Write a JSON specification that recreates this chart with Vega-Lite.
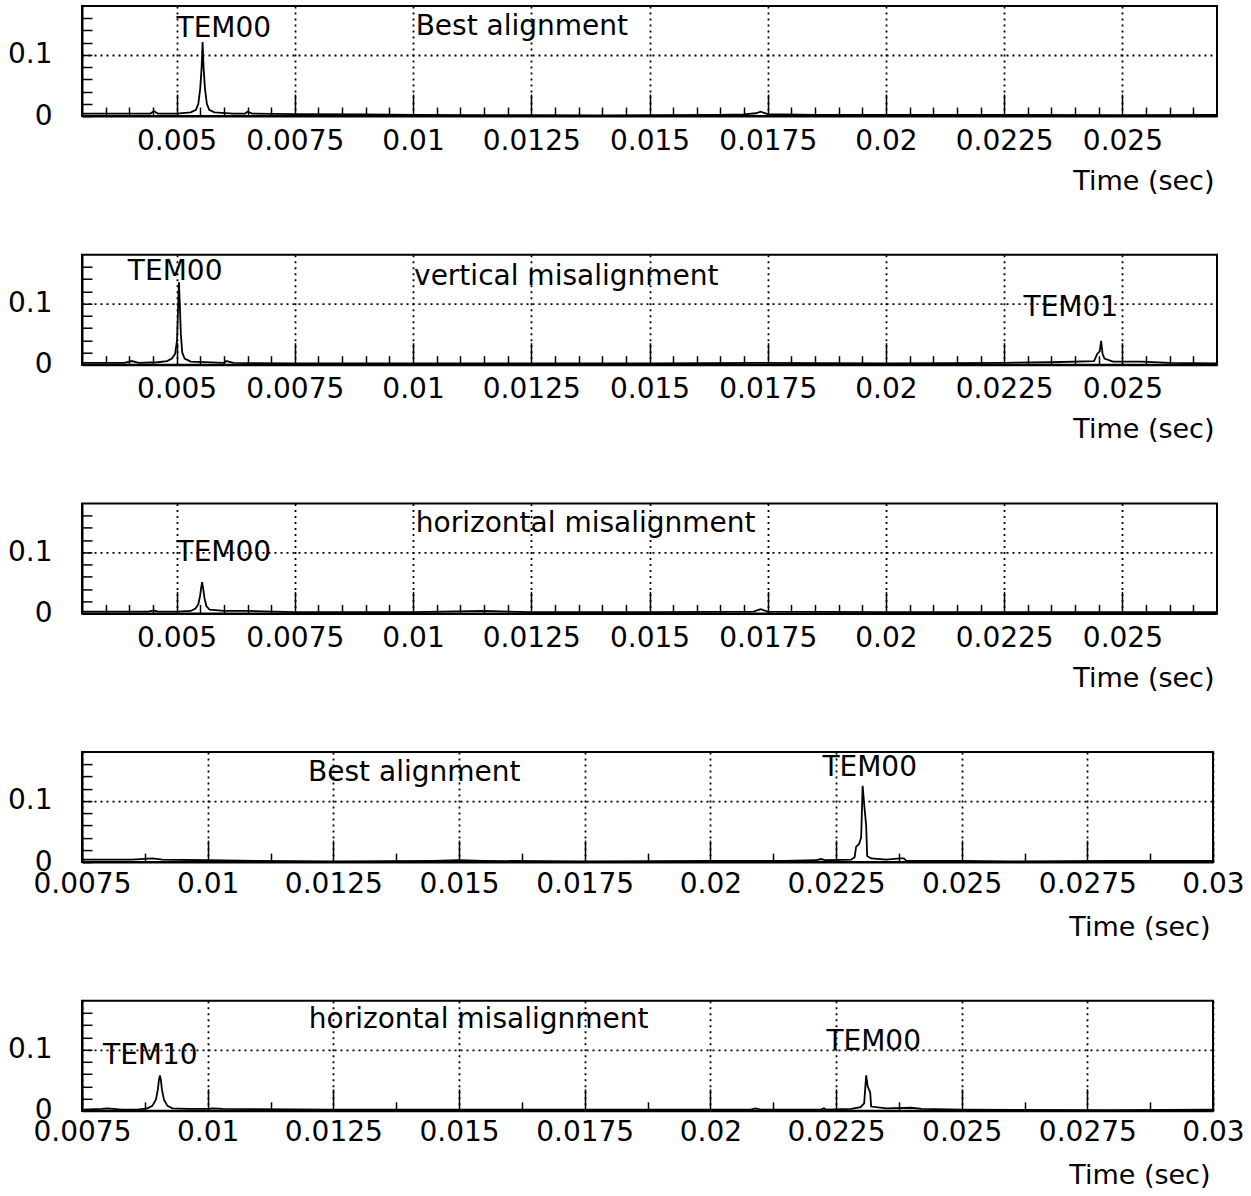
{
  "$schema": "https://vega.github.io/schema/vega-lite/v6.json",
  "background": "white",
  "padding": {"left": 6, "top": 3, "right": 0, "bottom": 0},
  "autosize": {"type": "pad"},
  "bounds": "flush",
  "spacing": 138.7,
  "config": {
    "font": "DejaVu Sans",
    "view": {"stroke": "black", "strokeWidth": 2},
    "axis": {"labelFont": "DejaVu Sans", "labelFontSize": 28, "labelColor": "black", "titleFont": "DejaVu Sans", "titleFontSize": 27, "titleFontWeight": "normal", "titleColor": "black", "tickColor": "black", "tickWidth": 1.5, "gridColor": "black", "gridDash": [2, 4], "gridWidth": 1.8, "domainColor": "black", "domainWidth": 2, "labelFlush": false, "labelOverlap": false, "labelBound": false},
    "line": {"color": "black", "strokeWidth": 1.8},
    "text": {"font": "DejaVu Sans", "fontSize": 28, "color": "black", "align": "center", "baseline": "alphabetic"}
  },
  "datasets": {
    "s1": [{"t":0.003,"v":0.004},{"t":0.004,"v":0.004},{"t":0.00445,"v":0.004},{"t":0.00452,"v":0.008},{"t":0.0046,"v":0.004},{"t":0.005,"v":0.004},{"t":0.0053,"v":0.006},{"t":0.00541,"v":0.010},{"t":0.00546,"v":0.020},{"t":0.0055,"v":0.045},{"t":0.00553,"v":0.080},{"t":0.00555,"v":0.121},{"t":0.00557,"v":0.080},{"t":0.0056,"v":0.045},{"t":0.00564,"v":0.020},{"t":0.00569,"v":0.010},{"t":0.0058,"v":0.006},{"t":0.0062,"v":0.004},{"t":0.00645,"v":0.004},{"t":0.0065,"v":0.007},{"t":0.0066,"v":0.004},{"t":0.0075,"v":0.003},{"t":0.009,"v":0.0025},{"t":0.01,"v":0.002},{"t":0.0115,"v":0.0015},{"t":0.0125,"v":0.0015},{"t":0.014,"v":0.001},{"t":0.015,"v":0.0015},{"t":0.0165,"v":0.002},{"t":0.017,"v":0.0025},{"t":0.01725,"v":0.0045},{"t":0.01735,"v":0.007},{"t":0.0175,"v":0.003},{"t":0.0185,"v":0.002},{"t":0.02,"v":0.002},{"t":0.0225,"v":0.002},{"t":0.025,"v":0.0015},{"t":0.027,"v":0.002}],
    "l1": [{"t":0.006,"v":0.130,"label":"TEM00"},{"t":0.0123,"v":0.1328,"label":"Best alignment"}],
    "s2": [{"t":0.003,"v":0.003},{"t":0.0039,"v":0.003},{"t":0.00405,"v":0.006},{"t":0.0042,"v":0.003},{"t":0.0046,"v":0.004},{"t":0.0048,"v":0.006},{"t":0.0049,"v":0.010},{"t":0.00497,"v":0.018},{"t":0.00501,"v":0.040},{"t":0.00503,"v":0.090},{"t":0.00505,"v":0.135},{"t":0.00507,"v":0.095},{"t":0.00509,"v":0.050},{"t":0.00512,"v":0.020},{"t":0.00517,"v":0.010},{"t":0.0053,"v":0.005},{"t":0.006,"v":0.003},{"t":0.00605,"v":0.006},{"t":0.0062,"v":0.003},{"t":0.0075,"v":0.002},{"t":0.01,"v":0.002},{"t":0.0125,"v":0.002},{"t":0.015,"v":0.002},{"t":0.0173,"v":0.003},{"t":0.02,"v":0.002},{"t":0.0225,"v":0.003},{"t":0.0235,"v":0.004},{"t":0.0244,"v":0.006},{"t":0.02447,"v":0.018},{"t":0.02452,"v":0.022},{"t":0.02455,"v":0.039},{"t":0.02458,"v":0.018},{"t":0.02462,"v":0.010},{"t":0.0248,"v":0.005},{"t":0.0254,"v":0.005},{"t":0.026,"v":0.003},{"t":0.027,"v":0.002}],
    "l2": [{"t":0.00497,"v":0.139,"label":"TEM00"},{"t":0.01324,"v":0.131,"label":"vertical misalignment"},{"t":0.02391,"v":0.080,"label":"TEM01"}],
    "s3": [{"t":0.003,"v":0.003},{"t":0.0044,"v":0.003},{"t":0.00452,"v":0.005},{"t":0.0046,"v":0.003},{"t":0.005,"v":0.003},{"t":0.0053,"v":0.004},{"t":0.0054,"v":0.008},{"t":0.00546,"v":0.015},{"t":0.0055,"v":0.030},{"t":0.00552,"v":0.042},{"t":0.00554,"v":0.051},{"t":0.00556,"v":0.042},{"t":0.00559,"v":0.025},{"t":0.00563,"v":0.012},{"t":0.0057,"v":0.006},{"t":0.006,"v":0.004},{"t":0.0065,"v":0.004},{"t":0.0075,"v":0.002},{"t":0.01,"v":0.002},{"t":0.0115,"v":0.004},{"t":0.0125,"v":0.002},{"t":0.015,"v":0.002},{"t":0.0172,"v":0.003},{"t":0.01735,"v":0.007},{"t":0.0175,"v":0.003},{"t":0.02,"v":0.002},{"t":0.025,"v":0.002},{"t":0.027,"v":0.002}],
    "l3": [{"t":0.006,"v":0.085,"label":"TEM00"},{"t":0.01365,"v":0.134,"label":"horizontal misalignment"}],
    "s4": [{"t":0.0075,"v":0.004},{"t":0.0085,"v":0.004},{"t":0.0089,"v":0.006},{"t":0.0091,"v":0.004},{"t":0.01,"v":0.003},{"t":0.011,"v":0.002},{"t":0.0125,"v":0.001},{"t":0.0145,"v":0.002},{"t":0.015,"v":0.003},{"t":0.0155,"v":0.002},{"t":0.0175,"v":0.001},{"t":0.02,"v":0.002},{"t":0.0215,"v":0.002},{"t":0.0221,"v":0.003},{"t":0.0222,"v":0.005},{"t":0.0223,"v":0.003},{"t":0.0228,"v":0.004},{"t":0.02287,"v":0.008},{"t":0.0229,"v":0.025},{"t":0.02296,"v":0.030},{"t":0.023,"v":0.040},{"t":0.02303,"v":0.125},{"t":0.02306,"v":0.095},{"t":0.0231,"v":0.060},{"t":0.02312,"v":0.010},{"t":0.0232,"v":0.006},{"t":0.0235,"v":0.004},{"t":0.02378,"v":0.006},{"t":0.02385,"v":0.006},{"t":0.0239,"v":0.002},{"t":0.025,"v":0.002},{"t":0.026,"v":0.001},{"t":0.028,"v":0.002},{"t":0.03,"v":0.002}],
    "l4": [{"t":0.01411,"v":0.133,"label":"Best alignment"},{"t":0.02317,"v":0.141,"label":"TEM00"}],
    "s5": [{"t":0.0075,"v":0.002},{"t":0.0079,"v":0.003},{"t":0.008,"v":0.004},{"t":0.0083,"v":0.002},{"t":0.0086,"v":0.002},{"t":0.0088,"v":0.004},{"t":0.0089,"v":0.008},{"t":0.00897,"v":0.018},{"t":0.00901,"v":0.035},{"t":0.00903,"v":0.050},{"t":0.00905,"v":0.058},{"t":0.00907,"v":0.050},{"t":0.00909,"v":0.035},{"t":0.00913,"v":0.018},{"t":0.0092,"v":0.008},{"t":0.0093,"v":0.004},{"t":0.0096,"v":0.003},{"t":0.01,"v":0.003},{"t":0.0101,"v":0.004},{"t":0.0103,"v":0.003},{"t":0.0125,"v":0.002},{"t":0.015,"v":0.002},{"t":0.0175,"v":0.002},{"t":0.02,"v":0.002},{"t":0.0208,"v":0.002},{"t":0.0209,"v":0.004},{"t":0.021,"v":0.002},{"t":0.0222,"v":0.002},{"t":0.02226,"v":0.004},{"t":0.0223,"v":0.002},{"t":0.0228,"v":0.003},{"t":0.02299,"v":0.006},{"t":0.02306,"v":0.012},{"t":0.0231,"v":0.058},{"t":0.02313,"v":0.040},{"t":0.02318,"v":0.030},{"t":0.0232,"v":0.007},{"t":0.0235,"v":0.004},{"t":0.0240,"v":0.005},{"t":0.0242,"v":0.003},{"t":0.025,"v":0.002},{"t":0.028,"v":0.001},{"t":0.03,"v":0.002}],
    "l5": [{"t":0.01539,"v":0.135,"label":"horizontal misalignment"},{"t":0.00886,"v":0.077,"label":"TEM10"},{"t":0.02325,"v":0.099,"label":"TEM00"}]
  },
  "vconcat": [
    {
      "width": 1135, "height": 110,
      "encoding": {
        "x": {"field": "t", "type": "quantitative", "scale": {"domain": [0.003, 0.027], "nice": false, "zero": false},
          "axis": {"values": [0.0035,0.004,0.0045,0.005,0.0055,0.006,0.0065,0.007,0.0075,0.008,0.0085,0.009,0.0095,0.01,0.0105,0.011,0.0115,0.012,0.0125,0.013,0.0135,0.014,0.0145,0.015,0.0155,0.016,0.0165,0.017,0.0175,0.018,0.0185,0.019,0.0195,0.02,0.0205,0.021,0.0215,0.022,0.0225,0.023,0.0235,0.024,0.0245,0.025,0.0255,0.026,0.0265],
            "labelExpr": "abs(datum.value/0.0025 - round(datum.value/0.0025)) < 1e-6 ? '' + datum.value : ''",
            "tickSize": {"condition": {"test": "abs(datum.value/0.0025 - round(datum.value/0.0025)) < 1e-6", "value": -22}, "value": -9},
            "gridOpacity": {"condition": {"test": "abs(datum.value/0.0025 - round(datum.value/0.0025)) < 1e-6", "value": 1}, "value": 0},
            "labelPadding": 33, "title": "Time (sec)", "titleX": 1132, "titleY": 73, "titleAlign": "right", "titleBaseline": "alphabetic"}},
        "y": {"field": "v", "type": "quantitative", "scale": {"domain": [0, 0.18], "nice": false},
          "axis": {"values": [0,0.02,0.04,0.06,0.08,0.1,0.12,0.14,0.16], "title": null, "tickSize": -10, "labelPadding": 40,
            "labelExpr": "datum.value == 0 || abs(datum.value - 0.1) < 1e-9 ? '' + datum.value : ''",
            "gridOpacity": {"condition": {"test": "abs(datum.value - 0.1) < 1e-9", "value": 1}, "value": 0}}}
      },
      "layer": [
        {"data": {"name": "s1"}, "mark": {"type": "line"}},
        {"data": {"name": "l1"}, "mark": {"type": "text"}, "encoding": {"text": {"field": "label"}}}
      ]
    },
    {
      "width": 1135, "height": 110,
      "encoding": {
        "x": {"field": "t", "type": "quantitative", "scale": {"domain": [0.003, 0.027], "nice": false, "zero": false},
          "axis": {"values": [0.0035,0.004,0.0045,0.005,0.0055,0.006,0.0065,0.007,0.0075,0.008,0.0085,0.009,0.0095,0.01,0.0105,0.011,0.0115,0.012,0.0125,0.013,0.0135,0.014,0.0145,0.015,0.0155,0.016,0.0165,0.017,0.0175,0.018,0.0185,0.019,0.0195,0.02,0.0205,0.021,0.0215,0.022,0.0225,0.023,0.0235,0.024,0.0245,0.025,0.0255,0.026,0.0265],
            "labelExpr": "abs(datum.value/0.0025 - round(datum.value/0.0025)) < 1e-6 ? '' + datum.value : ''",
            "tickSize": {"condition": {"test": "abs(datum.value/0.0025 - round(datum.value/0.0025)) < 1e-6", "value": -22}, "value": -9},
            "gridOpacity": {"condition": {"test": "abs(datum.value/0.0025 - round(datum.value/0.0025)) < 1e-6", "value": 1}, "value": 0},
            "labelPadding": 33, "title": "Time (sec)", "titleX": 1132, "titleY": 73, "titleAlign": "right", "titleBaseline": "alphabetic"}},
        "y": {"field": "v", "type": "quantitative", "scale": {"domain": [0, 0.18], "nice": false},
          "axis": {"values": [0,0.02,0.04,0.06,0.08,0.1,0.12,0.14,0.16], "title": null, "tickSize": -10, "labelPadding": 40,
            "labelExpr": "datum.value == 0 || abs(datum.value - 0.1) < 1e-9 ? '' + datum.value : ''",
            "gridOpacity": {"condition": {"test": "abs(datum.value - 0.1) < 1e-9", "value": 1}, "value": 0}}}
      },
      "layer": [
        {"data": {"name": "s2"}, "mark": {"type": "line"}},
        {"data": {"name": "l2"}, "mark": {"type": "text"}, "encoding": {"text": {"field": "label"}}}
      ]
    },
    {
      "width": 1135, "height": 110,
      "encoding": {
        "x": {"field": "t", "type": "quantitative", "scale": {"domain": [0.003, 0.027], "nice": false, "zero": false},
          "axis": {"values": [0.0035,0.004,0.0045,0.005,0.0055,0.006,0.0065,0.007,0.0075,0.008,0.0085,0.009,0.0095,0.01,0.0105,0.011,0.0115,0.012,0.0125,0.013,0.0135,0.014,0.0145,0.015,0.0155,0.016,0.0165,0.017,0.0175,0.018,0.0185,0.019,0.0195,0.02,0.0205,0.021,0.0215,0.022,0.0225,0.023,0.0235,0.024,0.0245,0.025,0.0255,0.026,0.0265],
            "labelExpr": "abs(datum.value/0.0025 - round(datum.value/0.0025)) < 1e-6 ? '' + datum.value : ''",
            "tickSize": {"condition": {"test": "abs(datum.value/0.0025 - round(datum.value/0.0025)) < 1e-6", "value": -22}, "value": -9},
            "gridOpacity": {"condition": {"test": "abs(datum.value/0.0025 - round(datum.value/0.0025)) < 1e-6", "value": 1}, "value": 0},
            "labelPadding": 33, "title": "Time (sec)", "titleX": 1132, "titleY": 73, "titleAlign": "right", "titleBaseline": "alphabetic"}},
        "y": {"field": "v", "type": "quantitative", "scale": {"domain": [0, 0.18], "nice": false},
          "axis": {"values": [0,0.02,0.04,0.06,0.08,0.1,0.12,0.14,0.16], "title": null, "tickSize": -10, "labelPadding": 40,
            "labelExpr": "datum.value == 0 || abs(datum.value - 0.1) < 1e-9 ? '' + datum.value : ''",
            "gridOpacity": {"condition": {"test": "abs(datum.value - 0.1) < 1e-9", "value": 1}, "value": 0}}}
      },
      "layer": [
        {"data": {"name": "s3"}, "mark": {"type": "line"}},
        {"data": {"name": "l3"}, "mark": {"type": "text"}, "encoding": {"text": {"field": "label"}}}
      ]
    },
    {
      "width": 1131, "height": 110,
      "encoding": {
        "x": {"field": "t", "type": "quantitative", "scale": {"domain": [0.0075, 0.03], "nice": false, "zero": false},
          "axis": {"values": [0.0075,0.00875,0.01,0.01125,0.0125,0.01375,0.015,0.01625,0.0175,0.01875,0.02,0.02125,0.0225,0.02375,0.025,0.02625,0.0275,0.02875,0.03],
            "labelExpr": "abs(datum.value/0.0025 - round(datum.value/0.0025)) < 1e-6 ? '' + datum.value : ''",
            "tickSize": {"condition": {"test": "abs(datum.value/0.0025 - round(datum.value/0.0025)) < 1e-6", "value": -22}, "value": -9},
            "gridOpacity": {"condition": {"test": "abs(datum.value/0.0025 - round(datum.value/0.0025)) < 1e-6", "value": 1}, "value": 0},
            "labelPadding": 30, "title": "Time (sec)", "titleX": 1128, "titleY": 73, "titleAlign": "right", "titleBaseline": "alphabetic"}},
        "y": {"field": "v", "type": "quantitative", "scale": {"domain": [0, 0.18], "nice": false},
          "axis": {"values": [0,0.02,0.04,0.06,0.08,0.1,0.12,0.14,0.16], "title": null, "tickSize": -10, "labelPadding": 40,
            "labelExpr": "datum.value == 0 || abs(datum.value - 0.1) < 1e-9 ? '' + datum.value : ''",
            "gridOpacity": {"condition": {"test": "abs(datum.value - 0.1) < 1e-9", "value": 1}, "value": 0}}}
      },
      "layer": [
        {"data": {"name": "s4"}, "mark": {"type": "line"}},
        {"data": {"name": "l4"}, "mark": {"type": "text"}, "encoding": {"text": {"field": "label"}}}
      ]
    },
    {
      "width": 1131, "height": 110,
      "encoding": {
        "x": {"field": "t", "type": "quantitative", "scale": {"domain": [0.0075, 0.03], "nice": false, "zero": false},
          "axis": {"values": [0.0075,0.00875,0.01,0.01125,0.0125,0.01375,0.015,0.01625,0.0175,0.01875,0.02,0.02125,0.0225,0.02375,0.025,0.02625,0.0275,0.02875,0.03],
            "labelExpr": "abs(datum.value/0.0025 - round(datum.value/0.0025)) < 1e-6 ? '' + datum.value : ''",
            "tickSize": {"condition": {"test": "abs(datum.value/0.0025 - round(datum.value/0.0025)) < 1e-6", "value": -22}, "value": -9},
            "gridOpacity": {"condition": {"test": "abs(datum.value/0.0025 - round(datum.value/0.0025)) < 1e-6", "value": 1}, "value": 0},
            "labelPadding": 30, "title": "Time (sec)", "titleX": 1128, "titleY": 73, "titleAlign": "right", "titleBaseline": "alphabetic"}},
        "y": {"field": "v", "type": "quantitative", "scale": {"domain": [0, 0.18], "nice": false},
          "axis": {"values": [0,0.02,0.04,0.06,0.08,0.1,0.12,0.14,0.16], "title": null, "tickSize": -10, "labelPadding": 40,
            "labelExpr": "datum.value == 0 || abs(datum.value - 0.1) < 1e-9 ? '' + datum.value : ''",
            "gridOpacity": {"condition": {"test": "abs(datum.value - 0.1) < 1e-9", "value": 1}, "value": 0}}}
      },
      "layer": [
        {"data": {"name": "s5"}, "mark": {"type": "line"}},
        {"data": {"name": "l5"}, "mark": {"type": "text"}, "encoding": {"text": {"field": "label"}}}
      ]
    }
  ]
}
